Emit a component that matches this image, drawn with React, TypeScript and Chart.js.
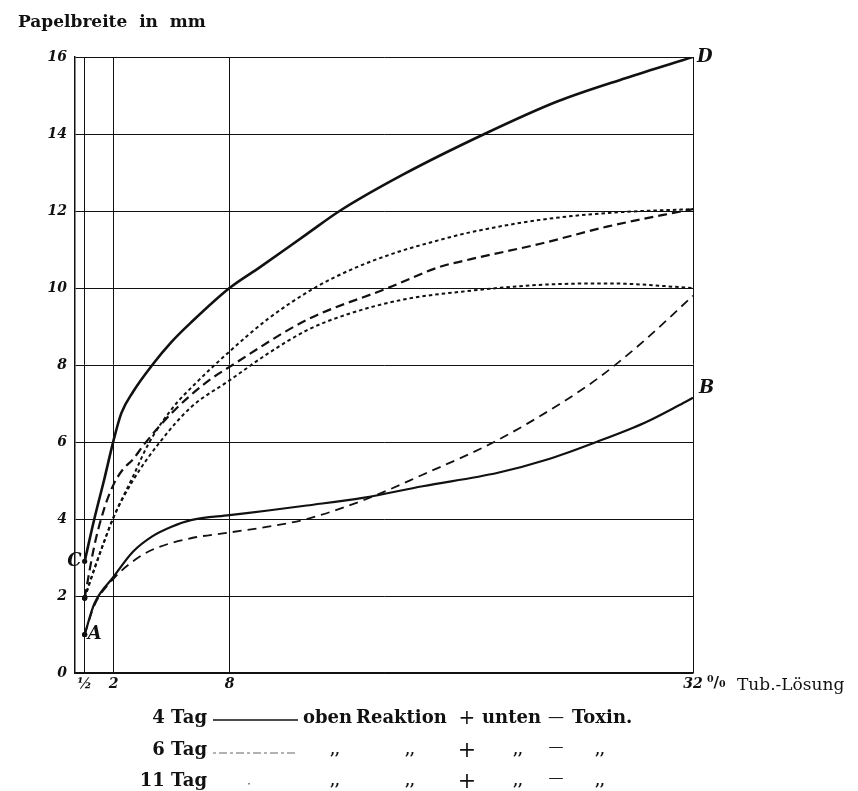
import React, { useEffect, useRef } from 'react';
import { Chart, registerables } from 'chart.js';

Chart.register(...registerables);

// ---- axis ticks ----
const xTickValues = [0.5, 2, 8, 32];
const xTickLabels = ['½', '2', '8', '32'];
const yTickValues = [0, 2, 4, 6, 8, 10, 12, 14, 16];

// ---- series (Tub.-Lösung %, Papelbreite mm) ----
// 4 Tag, upper (C -> D)
const day4UpperX = [0.5, 1, 1.5, 2, 2.4, 3, 4, 5, 6, 8, 9.6, 12, 13.7, 17, 21.2, 25, 28.5, 32];
const day4UpperY = [2.9, 4.0, 5.0, 6.05, 6.75, 7.3, 8.0, 8.6, 9.1, 10.0, 10.55, 11.4, 12.0, 12.95, 14.0, 14.85, 15.45, 16.0];
// 4 Tag, lower (A -> B)
const day4LowerX = [0.5, 1, 2, 3, 4, 5, 6, 8, 10, 12, 14.9, 18, 21.9, 24.5, 27, 29.5, 31.3, 32];
const day4LowerY = [1.0, 1.8, 2.5, 3.15, 3.55, 3.8, 3.97, 4.1, 4.22, 4.35, 4.55, 4.85, 5.2, 5.55, 6.0, 6.5, 6.96, 7.15];
// 6 Tag, upper (dotted, to 12)
const day6UpperX = [0.5, 1, 1.5, 2, 3, 3.8, 5, 6.4, 8, 10, 12.4, 14.4, 16.5, 18.9, 20.5, 24.1, 27.6, 32];
const day6UpperY = [1.95, 2.7, 3.4, 4.05, 5.1, 5.95, 6.85, 7.6, 8.35, 9.2, 10.0, 10.5, 10.9, 11.25, 11.45, 11.77, 11.95, 12.05];
// 6 Tag, lower (dotted, to 10)
const day6LowerX = [0.5, 1, 1.5, 2, 3, 4.4, 6, 8, 10, 12, 14, 17, 20.5, 24, 27.6, 32];
const day6LowerY = [1.95, 2.7, 3.4, 4.05, 5.0, 6.0, 6.9, 7.6, 8.3, 8.9, 9.3, 9.7, 9.93, 10.08, 10.12, 10.0];
// 11 Tag, upper (long dash, to 12)
const day11UpperX = [0.5, 1, 1.5, 2, 2.5, 3, 3.6, 5, 6.8, 8, 12, 16.2, 18.9, 20.5, 24.1, 27.6, 32];
const day11UpperY = [1.95, 3.3, 4.25, 4.9, 5.3, 5.55, 5.95, 6.75, 7.55, 7.95, 9.17, 10.0, 10.55, 10.75, 11.15, 11.6, 12.05];
// 11 Tag, lower (long dash, from A)
const day11LowerX = [0.5, 1, 2, 3, 4, 6, 8, 10, 12, 15, 18, 21.7, 25.3, 27.2, 29.4, 32];
const day11LowerY = [1.0, 1.75, 2.45, 2.9, 3.2, 3.5, 3.65, 3.8, 4.0, 4.5, 5.15, 6.0, 7.05, 7.7, 8.6, 9.8];

const toPoints = (xs: number[], ys: number[]) => xs.map((x, i) => ({ x, y: ys[i] }));

const FONT = '"DejaVu Serif", "Liberation Serif", serif';

const App = () => {
  const ref = useRef<HTMLCanvasElement | null>(null);

  useEffect(() => {
    if (!ref.current) return;

    const mk = (label: string, xs: number[], ys: number[], dash: number[], width: number) => ({
      label,
      data: toPoints(xs, ys),
      borderColor: '#111',
      backgroundColor: '#111',
      borderWidth: width,
      borderDash: dash,
      borderCapStyle: 'butt',
      cubicInterpolationMode: 'monotone',
      fill: false,
      pointRadius: (c: any) => (c.dataIndex === 0 ? 2.6 : 0),
      pointHoverRadius: 0,
      pointBorderWidth: 0,
    });

    const datasets = [
      mk('4 Tag oben', day4UpperX, day4UpperY, [], 2.6),
      mk('4 Tag unten', day4LowerX, day4LowerY, [], 2.2),
      mk('6 Tag oben', day6UpperX, day6UpperY, [3.5, 3], 2.0),
      mk('6 Tag unten', day6LowerX, day6LowerY, [3.5, 3], 2.0),
      mk('11 Tag oben', day11UpperX, day11UpperY, [9, 5], 2.2),
      mk('11 Tag unten', day11LowerX, day11LowerY, [9, 6], 1.8),
    ];

    const annotate = {
      id: 'annotate',
      afterDraw(chart: any) {
        const { ctx } = chart;
        const xs = chart.scales.x;
        const ys = chart.scales.y;
        ctx.save();
        ctx.fillStyle = '#111';
        ctx.strokeStyle = '#111';

        // point letters
        const letter = (t: string, xv: number, yv: number, dx: number, dy: number, align: CanvasTextAlign) => {
          ctx.font = `italic bold 18px ${FONT}`;
          ctx.textAlign = align;
          ctx.textBaseline = 'middle';
          ctx.fillText(t, xs.getPixelForValue(xv) + dx, ys.getPixelForValue(yv) + dy);
        };
        letter('C', day4UpperX[0], day4UpperY[0], -3, 0, 'right');
        letter('A', day4LowerX[0], day4LowerY[0], 3, 0, 'left');
        letter('B', day4LowerX[day4LowerX.length - 1], day4LowerY[day4LowerY.length - 1], 6, -9, 'left');
        letter('D', day4UpperX[day4UpperX.length - 1], day4UpperY[day4UpperY.length - 1], 4, 0, 'left');

        // y-axis title
        ctx.font = `bold 17px ${FONT}`;
        ctx.textAlign = 'left';
        ctx.textBaseline = 'middle';
        ctx.fillText('Papelbreite  in  mm', 18, 23);

        // x-axis unit
        const xEnd = xs.getPixelForValue(32);
        ctx.font = `bold 15px ${FONT}`;
        ctx.fillText('⁰/₀', xEnd + 14, 683);
        ctx.font = `17px ${FONT}`;
        ctx.fillText('Tub.-Lösung', xEnd + 44, 686);

        // legend
        const rows = [718, 750, 781];
        const days = ['4 Tag', '6 Tag', '11 Tag'];
        ctx.font = `bold 18px ${FONT}`;
        ctx.textAlign = 'right';
        days.forEach((d, i) => ctx.fillText(d, 207, rows[i]));

        // samples
        ctx.lineWidth = 1.5;
        ctx.setLineDash([]);
        ctx.beginPath();
        ctx.moveTo(213, rows[0] + 2);
        ctx.lineTo(298, rows[0] + 2);
        ctx.stroke();
        ctx.lineWidth = 1;
        ctx.strokeStyle = '#666';
        ctx.setLineDash([3, 3, 8, 3]);
        ctx.beginPath();
        ctx.moveTo(213, rows[1] + 3);
        ctx.lineTo(298, rows[1] + 3);
        ctx.stroke();
        ctx.setLineDash([]);
        ctx.fillStyle = '#888';
        ctx.fillRect(248, rows[2] + 2, 2, 1.5);
        ctx.fillStyle = '#111';
        ctx.strokeStyle = '#111';

        ctx.textAlign = 'left';
        ctx.font = `bold 18px ${FONT}`;
        ctx.fillText('oben', 303, rows[0]);
        ctx.fillText('Reaktion', 356, rows[0]);
        ctx.fillText('unten', 482, rows[0]);
        ctx.fillText('Toxin.', 572, rows[0]);
        ctx.textAlign = 'center';
        ctx.font = `20px ${FONT}`;
        ctx.fillText('+', 467, rows[0] + 1);
        ctx.font = `16px ${FONT}`;
        ctx.fillText('—', 556, rows[0]);
        for (const r of [rows[1], rows[2]]) {
          ctx.font = `bold 14px ${FONT}`;
          ctx.fillText(',,', 335, r);
          ctx.fillText(',,', 410, r);
          ctx.fillText(',,', 518, r);
          ctx.fillText(',,', 600, r);
          ctx.font = `22px ${FONT}`;
          ctx.fillText('+', 467, r + 1);
          ctx.font = `15px ${FONT}`;
          ctx.fillText('—', 556, r - 3);
        }
        ctx.restore();
      },
    };

    const chart = new Chart(ref.current, {
      type: 'line',
      data: { datasets: datasets as any },
      options: {
        animation: false,
        responsive: false,
        devicePixelRatio: 1,
        layout: { padding: { left: 0, top: 57, right: 165, bottom: 88 } },
        plugins: { legend: { display: false }, tooltip: { enabled: false } },
        scales: {
          x: {
            type: 'linear',
            min: 0,
            max: 32,
            afterBuildTicks: (s: any) => {
              s.ticks = xTickValues.map((v) => ({ value: v }));
            },
            afterFit: (s: any) => {
              s.height = 30;
            },
            ticks: {
              autoSkip: false,
              maxRotation: 0,
              padding: 3,
              color: '#111',
              font: { family: FONT, weight: 'bold', style: 'italic', size: 14 },
              callback: (v: any) => xTickLabels[xTickValues.indexOf(Number(v))] ?? '',
            },
            grid: { color: '#111', lineWidth: 1, drawTicks: false },
            border: { display: true, color: '#111', width: 1.5 },
          },
          y: {
            type: 'linear',
            min: 0,
            max: 16,
            afterBuildTicks: (s: any) => {
              s.ticks = yTickValues.map((v) => ({ value: v }));
            },
            afterFit: (s: any) => {
              s.width = 75;
            },
            ticks: {
              padding: 8,
              color: '#111',
              font: { family: FONT, weight: 'bold', style: 'italic', size: 14 },
            },
            grid: { color: '#111', lineWidth: 1, drawTicks: false },
            border: { display: true, color: '#111', width: 1.5 },
          },
        },
      } as any,
      plugins: [annotate],
    });

    return () => chart.destroy();
  }, []);

  return (
    <div style={{ position: 'absolute', left: 0, top: 0, width: 858, height: 791, background: '#fff' }}>
      <canvas ref={ref} width={858} height={791} style={{ width: 858, height: 791, display: 'block' }} />
    </div>
  );
};

export default App;
